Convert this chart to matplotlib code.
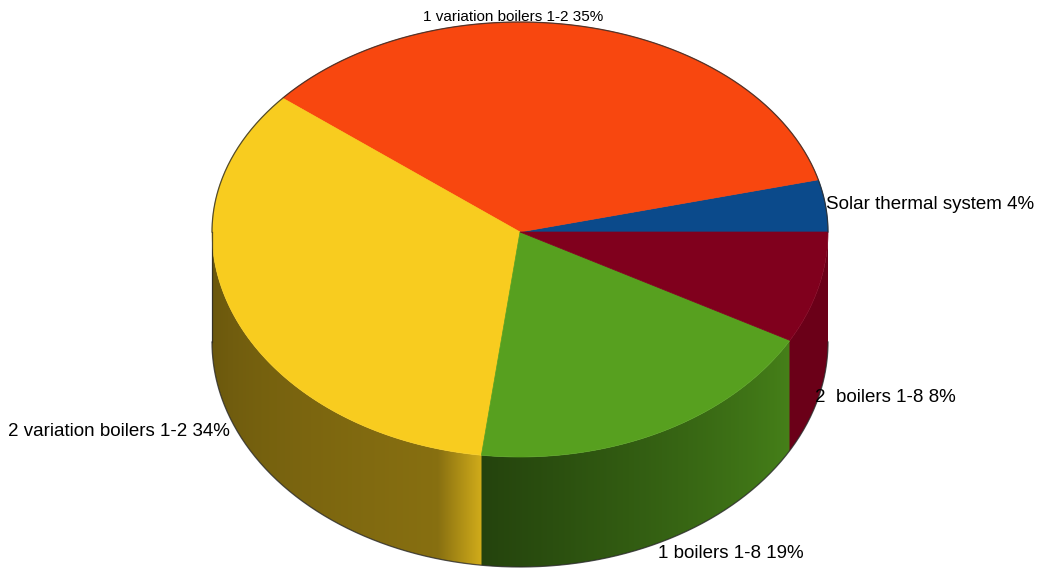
import numpy as np
import matplotlib
matplotlib.use("Agg")
import matplotlib.pyplot as plt
from matplotlib.patches import Polygon

# slice data, counter-clockwise from 3 o'clock
labels = ["Solar thermal system", "1 variation boilers 1-2", "2 variation boilers 1-2",
          "1 boilers 1-8", "2  boilers 1-8"]
shares = [4, 35, 34, 19, 8]
colors = ["#0b4a8b", "#f8470f", "#f8cc1f", "#57a01f", "#80001d"]

# pie geometry in pixels
cx, cy = 520, 232
rx, ry_back, ry_front = 308, 210, 225
depth = 110


def rim(theta):
    # point on the top ellipse, front half drawn a bit taller (perspective)
    th = np.radians(theta)
    s = np.sin(th)
    ry = np.where(s >= 0, ry_back, ry_front)
    return cx + rx * np.cos(th), cy - ry * s


def side_shade(i, t):
    # light factor along the visible wall of slice i, t in [0, 1]
    if i == 2:
        f = 0.42 + 0.14 * t
        return np.where(t > 0.9, f + (t - 0.9) / 0.1 * 0.28, f)
    if i == 3:
        return 0.42 + 0.38 * t
    return 0.84 + 0.0 * t


fig = plt.figure(figsize=(10.44, 5.68), dpi=100)
ax = fig.add_axes([0, 0, 1, 1])
ax.set_xlim(0, 1044)
ax.set_ylim(568, 0)
ax.axis("off")

bounds = np.concatenate([[0], np.cumsum(shares)]) / np.sum(shares) * 360.0

# outer wall: one horizontal gradient strip, clipped to the front half
xs = np.linspace(cx - rx, cx + rx, 1200)
ang = 360 - np.degrees(np.arccos(np.clip((xs - cx) / rx, -1, 1)))
strip = np.zeros((2, xs.size, 3))
for i, c in enumerate(colors):
    a0, a1 = max(bounds[i], 180), min(bounds[i + 1], 360)
    if a1 <= a0:
        continue
    m = (ang >= a0) & (ang <= a1)
    t = (ang[m] - a0) / (a1 - a0)
    rgb = np.array(matplotlib.colors.to_rgb(c))
    strip[:, m, :] = np.clip(rgb[None, :] * side_shade(i, t)[:, None], 0, 1)

th = np.linspace(180, 360, 600)
x, y = rim(th)
wall = np.column_stack([np.r_[x, x[::-1]], np.r_[y, (y + depth)[::-1]]])
wall_patch = Polygon(wall, closed=True, facecolor="none", edgecolor="none")
ax.add_patch(wall_patch)
img = ax.imshow(strip, extent=[cx - rx, cx + rx, cy + ry_front + depth + 2, cy - 2],
                aspect="auto", interpolation="bilinear", zorder=1)
img.set_clip_path(wall_patch)

# top faces
for i, c in enumerate(colors):
    th = np.linspace(bounds[i], bounds[i + 1], int((bounds[i + 1] - bounds[i]) * 3) + 2)
    x, y = rim(th)
    pts = np.column_stack([np.r_[cx, x], np.r_[cy, y]])
    ax.add_patch(Polygon(pts, closed=True, facecolor=c, edgecolor=c, linewidth=0.5, zorder=2))

# dark silhouette
th = np.linspace(0, 180, 400)
x, y = rim(th)
ax.plot(x, y, color="#2a2a2a", lw=0.9, alpha=0.8, zorder=3)
th = np.linspace(180, 360, 400)
x, y = rim(th)
ax.plot(x, y + depth, color="#2a2a2a", lw=0.9, alpha=0.8, zorder=3)
ax.plot([cx - rx, cx - rx], [cy, cy + depth], color="#2a2a2a", lw=0.9, alpha=0.8, zorder=3)

# labels at slice mid-angles; front slices sit at the middle of the wall
offsets = [(0, -1, "left"), (16, -10, "right"), (-4, 7, "right"), (-2, 11, "left"), (-3, 0, "left")]
sizes = [13.5, 11, 13.5, 13.5, 13.5]
for i, lab in enumerate(labels):
    mid = (bounds[i] + bounds[i + 1]) / 2
    x, y = rim(mid)
    if np.sin(np.radians(mid)) < 0:
        y = y + depth
    dx, dy, ha = offsets[i]
    ax.text(x + dx, y + dy, f"{lab} {shares[i]}%", ha=ha, va="center",
            fontsize=sizes[i], family="Liberation Sans", color="black", zorder=4)

fig.savefig("out.png", dpi=100, facecolor="white")
